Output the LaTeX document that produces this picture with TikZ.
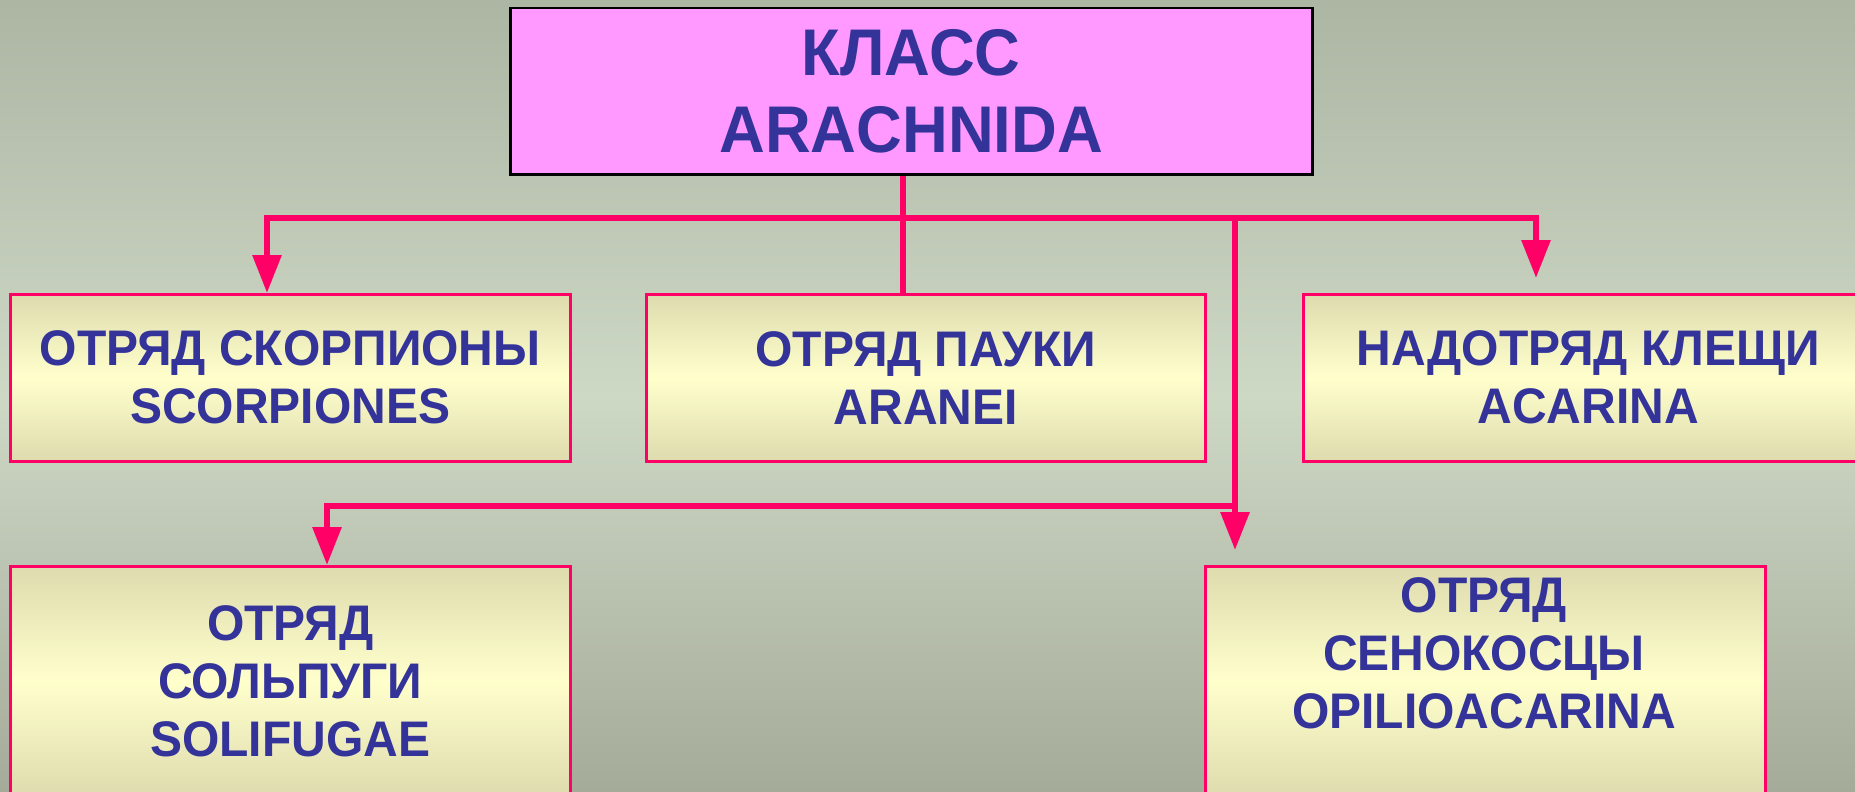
\documentclass[tikz,border=0pt]{standalone}
\usepackage{fontspec}
\setmainfont{Liberation Sans}[BoldFeatures={FakeStretch=0.96}]
\usetikzlibrary{arrows.meta}
\definecolor{bgtop}{HTML}{ADB5A3}
\definecolor{bgmid}{HTML}{CDD8C5}
\definecolor{bgbot}{HTML}{A5AB99}
\definecolor{boxedge}{HTML}{DEDBAE}
\definecolor{boxmid}{HTML}{FFFFCC}
\definecolor{linec}{HTML}{FF0066}
\definecolor{txtc}{HTML}{333399}
\definecolor{pinkc}{HTML}{FF99FF}
\tikzset{
  ordbox/.style={draw=linec, line width=2.5pt, top color=boxedge, bottom color=boxedge, middle color=boxmid,
    anchor=north west, minimum height=167pt, minimum width=560pt, inner sep=0pt,
    text=txtc, align=center, font=\fontsize{50}{58}\selectfont\bfseries},
  tallbox/.style={ordbox, minimum height=230pt},
  boxtext/.style={text=txtc, align=center, inner sep=0pt, font=\fontsize{50}{58}\selectfont\bfseries},
  conn/.style={draw=linec, line width=6pt, line join=miter},
  arr/.style={conn, -{Triangle[length=38pt,width=28pt]}}
}
\begin{document}
\begin{tikzpicture}[x=1pt,y=-1pt]
\useasboundingbox (0,0) rectangle (1855,792);
\clip (0,0) rectangle (1855,792);
\shade[top color=bgtop, bottom color=bgbot, middle color=bgmid] (0,0) rectangle (1855,792);

\node[draw=black, line width=2.5pt, fill=pinkc, anchor=north west, minimum width=802pt, minimum height=166pt,
  inner sep=0pt, text=txtc, align=center, font=\fontsize{66}{77}\selectfont\bfseries]
  (top) at (509,7) {КЛАСС\\ARACHNIDA};

\node[ordbox] (scorp) at (9,293) {ОТРЯД СКОРПИОНЫ\\SCORPIONES};
\node[ordbox, minimum width=559pt] (aran) at (645,293) {ОТРЯД ПАУКИ\\ARANEI};
\node[ordbox, minimum width=570pt] (acar) at (1302,293) {НАДОТРЯД КЛЕЩИ\\ACARINA};
\node[tallbox] (solif) at (9,565) {ОТРЯД\\СОЛЬПУГИ\\SOLIFUGAE};
\node[tallbox] (opil) at (1204,565) {};
\node[boxtext, anchor=north] (opiltxt) at (1484,577) {ОТРЯД\\СЕНОКОСЦЫ\\OPILIOACARINA};

\coordinate (tv) at (903,173);
\coordinate (hl) at (267,218);
\coordinate (hr) at (1536,218);
\coordinate (hm) at (1235,218);
\coordinate (acartip) at (1536,278);
\coordinate (opiltip) at (1235,550);
\coordinate (sl) at (327,506);
\coordinate (sm) at (1235,506);

\draw[conn] (tv |- top.south) -- (tv |- aran.north);
\draw[arr] (hr) -- (hl) -- (hl |- scorp.north);
\draw[arr] (hl) -- (hr) -- (acartip);
\draw[arr] (hm) -- (opiltip);
\draw[arr] (sm) -- (sl) -- (sl |- solif.north);
\end{tikzpicture}
\end{document}
